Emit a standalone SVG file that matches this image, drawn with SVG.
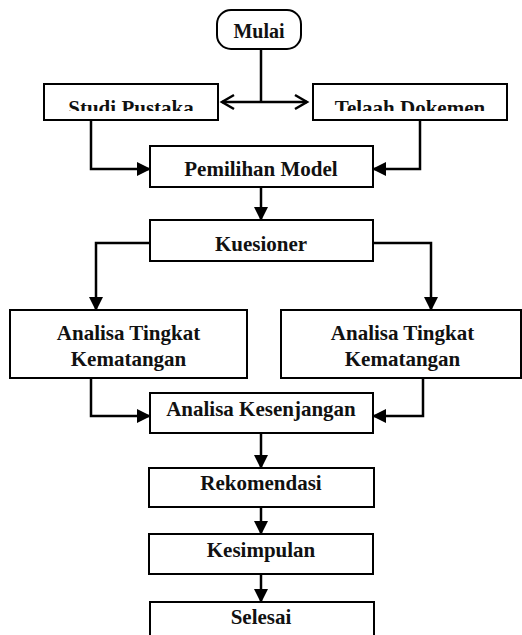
<svg xmlns="http://www.w3.org/2000/svg" width="522" height="635" viewBox="0 0 522 635">
<style>
.box{fill:#fff;stroke:#000;stroke-width:2}
.t{font-family:"Liberation Serif","Times New Roman",serif;font-weight:bold;font-size:21px;text-anchor:middle;fill:#111}
.c{fill:none;stroke:#000;stroke-width:2.5}
</style>
<defs>
<marker id="ah" markerUnits="userSpaceOnUse" markerWidth="14" markerHeight="14" refX="13" refY="7" orient="auto">
<path d="M0,0 L14,7 L0,14 z" fill="#000"/>
</marker>
<clipPath id="clipTop"><rect x="0" y="0" width="522" height="111"/></clipPath>
</defs>
<rect width="522" height="635" fill="#fff"/>
<g id="connectors">
<path class="c" d="M261 49 V102"/>
<path class="c" d="M222 102 H307"/>
<path class="c" d="M234 95 L222 102 L234 109"/>
<path class="c" d="M295 95 L307 102 L295 109"/>
<path class="c" d="M91 120 V169 H150" marker-end="url(#ah)"/>
<path class="c" d="M420 120 V169 H373" marker-end="url(#ah)"/>
<path class="c" d="M261 187 V220" marker-end="url(#ah)"/>
<path class="c" d="M150 243 H96 V310" marker-end="url(#ah)"/>
<path class="c" d="M373 243 H431 V310" marker-end="url(#ah)"/>
<path class="c" d="M91 378 V416 H150" marker-end="url(#ah)"/>
<path class="c" d="M423 378 V416 H373" marker-end="url(#ah)"/>
<path class="c" d="M261 433 V468" marker-end="url(#ah)"/>
<path class="c" d="M261 507 V534" marker-end="url(#ah)"/>
<path class="c" d="M261 574 V602" marker-end="url(#ah)"/>
</g>
<g id="mulai">
<rect class="box" x="217" y="10" width="84" height="39" rx="14" ry="14"/>
<text class="t" x="259" y="38" style="font-size:20px">Mulai</text>
</g>
<g id="studi-pustaka">
<rect class="box" x="44" y="84" width="174" height="36"/>
<text class="t" x="131" y="115" clip-path="url(#clipTop)">Studi Pustaka</text>
</g>
<g id="telaah-dokemen">
<rect class="box" x="313" y="84" width="194" height="36"/>
<text class="t" x="410" y="115" clip-path="url(#clipTop)">Telaah Dokemen</text>
</g>
<g id="pemilihan-model">
<rect class="box" x="150" y="146" width="223" height="41"/>
<text class="t" x="261" y="176">Pemilihan Model</text>
</g>
<g id="kuesioner">
<rect class="box" x="150" y="220" width="223" height="41"/>
<text class="t" x="261" y="251">Kuesioner</text>
</g>
<g id="analisa-kiri">
<rect class="box" x="10" y="310" width="237" height="68"/>
<text class="t" x="128.5" y="340">Analisa Tingkat</text>
<text class="t" x="128.5" y="366">Kematangan</text>
</g>
<g id="analisa-kanan">
<rect class="box" x="281" y="310" width="240" height="68"/>
<text class="t" x="402.5" y="340">Analisa Tingkat</text>
<text class="t" x="402.5" y="366">Kematangan</text>
</g>
<g id="analisa-kesenjangan">
<rect class="box" x="150" y="393" width="223" height="40"/>
<text class="t" x="261" y="416">Analisa Kesenjangan</text>
</g>
<g id="rekomendasi">
<rect class="box" x="149" y="468" width="225" height="39"/>
<text class="t" x="261" y="490">Rekomendasi</text>
</g>
<g id="kesimpulan">
<rect class="box" x="149" y="534" width="224" height="40"/>
<text class="t" x="261" y="557">Kesimpulan</text>
</g>
<g id="selesai">
<rect class="box" x="150" y="602" width="224" height="40"/>
<text class="t" x="261" y="624">Selesai</text>
</g>
</svg>
